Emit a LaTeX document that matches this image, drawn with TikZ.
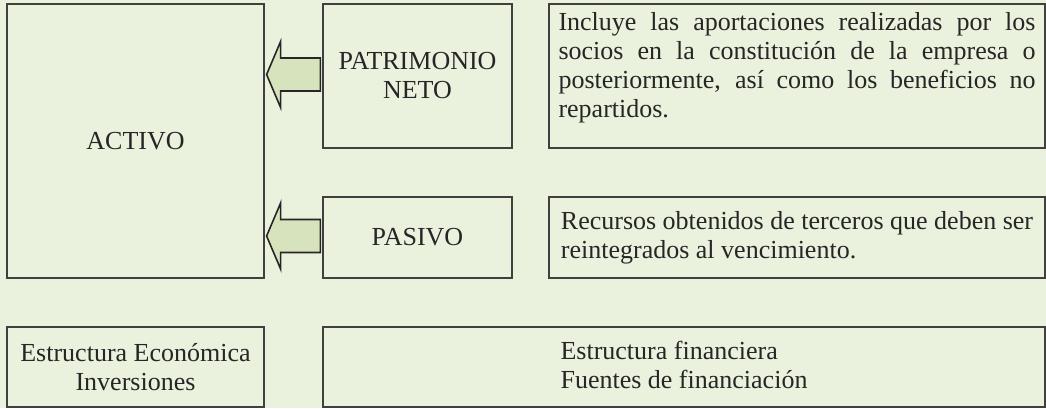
\documentclass[tikz,border=0pt]{standalone}
\usepackage{fontspec}
\setmainfont{Liberation Serif}
\usetikzlibrary{calc}
\definecolor{bgc}{HTML}{EAF1DD}
\definecolor{arrfill}{HTML}{D7E3BC}
\definecolor{edgec}{HTML}{404040}
\begin{document}
\begin{tikzpicture}[x=1pt,y=-1pt,
  every node/.style={font=\fontsize{26}{29}\selectfont, text=black!85},
  cell/.style={draw=edgec, line width=1.2pt, fill=bgc, inner sep=0pt, align=center},
  bigarrow/.style={draw=black!85, line width=1.6pt, fill=arrfill, line join=miter}]
\useasboundingbox (0,0) rectangle (1046,408);
\fill[bgc] (0,0) rectangle (1046,408);
% boxes
\node[cell, minimum width=257, minimum height=274] (activo) at (135.5,141) {ACTIVO};
\node[cell, minimum width=189, minimum height=144] (pn) at (417.5,76) {PATRIMONIO\\NETO};
\node[cell, minimum width=496, minimum height=144, text width=477, align=justify, text depth=109.5pt] (pntext) at (797,76)
  {Incluye las aportaciones realizadas por los\linebreak socios en la constitución de la empresa o\linebreak posteriormente, así como los beneficios no\linebreak repartidos.};
\node[cell, minimum width=189, minimum height=81] (pas) at (417.5,237.5) {PASIVO};
\node[cell, minimum width=496, minimum height=81, align=left] (pastext) at (797,237.5)
  {Recursos obtenidos de terceros que deben ser\\reintegrados al vencimiento.};
\node[cell, minimum width=257, minimum height=80] (ee) at (135.5,367) {Estructura Económica\\Inversiones};
\node[cell, minimum width=722, minimum height=80, align=left, text depth=5pt] (ef) at (684,367)
  {Estructura financiera\\Fuentes de financiación};
% arrows
\path (activo.east |- pn.west) ++(2,-1.5) coordinate (t1);
\draw[bigarrow] (t1) -- ++(14,-33) -- ++(0,16.5) -- ($(pn.west |- t1)+(-2,-16.5)$) -- ++(0,33)
  -- ($(t1)+(14,16.5)$) -- ++(0,16.5) -- cycle;
\path (activo.east |- pas.west) ++(2,-1.5) coordinate (t2);
\draw[bigarrow] (t2) -- ++(14,-33) -- ++(0,16.5) -- ($(pas.west |- t2)+(-2,-16.5)$) -- ++(0,33)
  -- ($(t2)+(14,16.5)$) -- ++(0,16.5) -- cycle;
\end{tikzpicture}
\end{document}
